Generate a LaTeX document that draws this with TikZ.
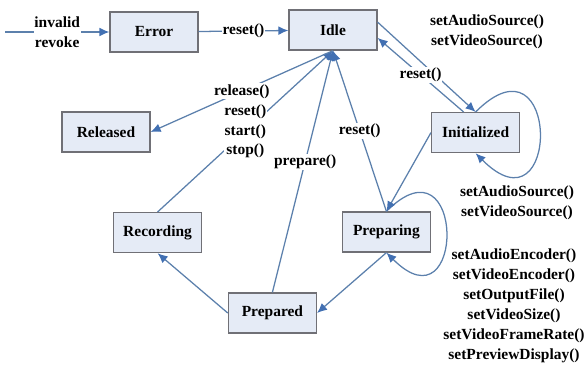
\documentclass[tikz,border=0pt]{standalone}
\usepackage{fontspec}
\setmainfont{Liberation Serif}
\usetikzlibrary{arrows.meta}

\definecolor{edgeblue}{RGB}{92,128,172}
\definecolor{tipblue}{RGB}{66,112,178}
\definecolor{boxfill}{RGB}{229,235,246}
\definecolor{boxgray}{RGB}{112,112,118}

\begin{document}
\begin{tikzpicture}[
		font=\bfseries\fontsize{11}{14.2}\selectfont,
		state/.style={draw=boxgray, fill=boxfill, line width=0.9pt, minimum width=2.2cm, minimum height=1cm, inner sep=0pt},
		flow/.style={draw=edgeblue, line width=0.9pt, -{Latex[length=2.5mm,width=2.2mm,color=tipblue]}},
		lbl/.style={fill=white, inner sep=0.6pt, align=center},
		note/.style={align=center, inner sep=0pt}
	]
	\useasboundingbox (0,0) rectangle (14.7,9.225);

	% the states
	\node[state] (error) at (3.85,8.425) {Error};
	\node[state] (idle) at (8.325,8.475) {Idle};
	\node[state] (released) at (2.65,5.925) {Released};
	\node[state] (init) at (11.89,5.91) {Initialized};
	\node[state] (recording) at (3.94,3.41) {Recording};
	\node[state] (preparing) at (9.66,3.425) {Preparing};
	\node[state] (prepared) at (6.81,1.4) {Prepared};

	\coordinate (start) at (0.125,8.425);

	% transitions along the top
	\draw[flow] (start) -- node[lbl] {invalid\\revoke} (error);
	\draw[flow] (error) -- node[lbl] {reset()} (idle);
	\draw[flow] (idle.10) -- (init.north);
	\draw[flow] ([xshift=-0.3cm]init.north) -- node[lbl] {reset()} (idle.-10);

	% self loops
	\draw[flow] (init.north) to[out=45, in=-45, looseness=7.5] (init.south);
	\draw[flow] (preparing.north) to[out=45, in=-45, looseness=7] (preparing.south);

	% back to idle
	\draw[flow] (init.west) -- (preparing.north);
	\draw[flow] (preparing.north) -- node[lbl] {reset()} (idle.south);
	\draw[flow] (prepared.north) -- node[lbl, pos=0.54] {prepare()} (idle.south);
	\draw[flow] (recording.north) -- node[lbl] {reset()\\start()\\stop()} (idle.south);
	\draw[flow] (idle.south) -- node[lbl] {release()} (released.east);

	% lower part
	\draw[flow] (prepared.west) -- (recording.south);
	\draw[flow] (preparing.south) -- (prepared.east);

	% method lists
	\node[note] (initcalls) at (12.175,8.425) {setAudioSource()\\setVideoSource()};
	\node[note] (loopcalls) at (12.925,4.15) {setAudioSource()\\setVideoSource()};
	\node[note] (prepcalls) at (12.85,1.575) {setAudioEncoder()\\setVideoEncoder()\\setOutputFile()\\setVideoSize()\\setVideoFrameRate()\\setPreviewDisplay()};
\end{tikzpicture}
\end{document}
